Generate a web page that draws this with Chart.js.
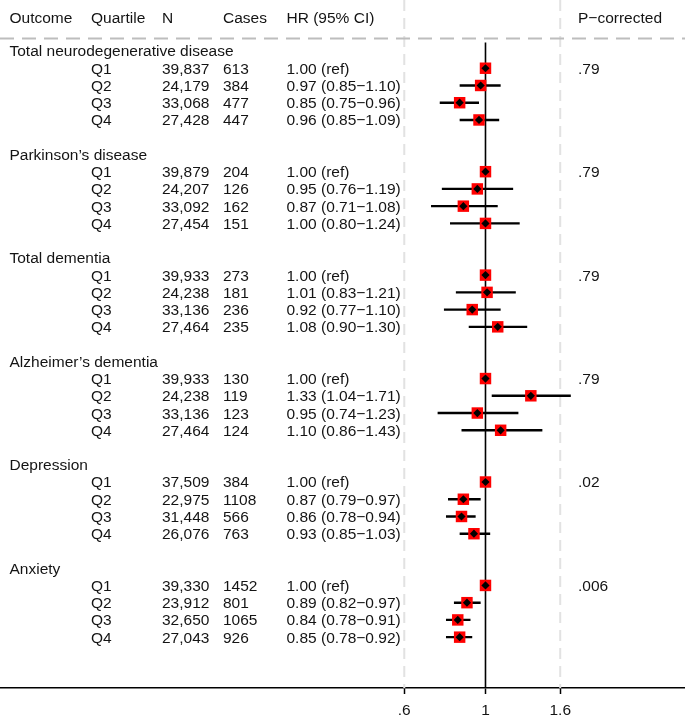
<!DOCTYPE html>
<html>
<head>
<meta charset="utf-8">
<script src="https://cdn.jsdelivr.net/npm/chart.js@4.4.1/dist/chart.umd.min.js"></script>
<style>
  html, body { margin: 0; padding: 0; background: #ffffff; }
  #wrap { width: 685px; height: 717px; position: relative; }
</style>
</head>
<body>
<div id="wrap"><canvas id="c"></canvas></div>
<script>
// ---------------- data ----------------
const headers = ['Outcome', 'Quartile', 'N', 'Cases', 'HR (95% CI)', 'P\u2212corrected'];
const outcomes = ['Total neurodegenerative disease', 'Parkinson\u2019s disease', 'Total dementia',
                  'Alzheimer\u2019s dementia', 'Depression', 'Anxiety'];
const quartiles = ['Q1', 'Q2', 'Q3', 'Q4'];
const nValues = [
  [39837, 24179, 33068, 27428],
  [39879, 24207, 33092, 27454],
  [39933, 24238, 33136, 27464],
  [39933, 24238, 33136, 27464],
  [37509, 22975, 31448, 26076],
  [39330, 23912, 32650, 27043]
];
const caseValues = [
  [613, 384, 477, 447],
  [204, 126, 162, 151],
  [273, 181, 236, 235],
  [130, 119, 123, 124],
  [384, 1108, 566, 763],
  [1452, 801, 1065, 926]
];
const hrValues = [
  [1.00, 0.97, 0.85, 0.96],
  [1.00, 0.95, 0.87, 1.00],
  [1.00, 1.01, 0.92, 1.08],
  [1.00, 1.33, 0.95, 1.10],
  [1.00, 0.87, 0.86, 0.93],
  [1.00, 0.89, 0.84, 0.85]
];
const ciLow = [
  [null, 0.85, 0.75, 0.85],
  [null, 0.76, 0.71, 0.80],
  [null, 0.83, 0.77, 0.90],
  [null, 1.04, 0.74, 0.86],
  [null, 0.79, 0.78, 0.85],
  [null, 0.82, 0.78, 0.78]
];
const ciHigh = [
  [null, 1.10, 0.96, 1.09],
  [null, 1.19, 1.08, 1.24],
  [null, 1.21, 1.10, 1.30],
  [null, 1.71, 1.23, 1.43],
  [null, 0.97, 0.94, 1.03],
  [null, 0.97, 0.91, 0.92]
];
const pCorrected = ['.79', '.79', '.79', '.79', '.02', '.006'];
const xTicks = [0.6, 1, 1.6];
const xTickLabels = ['.6', '1', '1.6'];

// ---------------- layout constants ----------------
const X_MIN = 0.0472, X_MAX = 3.507;
const Y_MIN = -2.958, Y_MAX = 36.949;
const HEADER_ROW = -1.93, RULE_ROW = -0.725, REF_TOP = -0.5;
const ROWS_PER_GROUP = 6;
const colX = [9.5, 91, 162, 223, 286.5, 578];
const FONT = '15.5px "Liberation Sans", Arial, Helvetica, sans-serif';
const TXT = '#141414';

// ---------------- build datasets ----------------
const squares = [], ciPts = [];
outcomes.forEach((o, g) => {
  quartiles.forEach((q, k) => {
    const row = g * ROWS_PER_GROUP + 1 + k;
    squares.push({ x: hrValues[g][k], y: row });
    if (ciLow[g][k] !== null) {
      ciPts.push({ x: ciLow[g][k], y: row });
      ciPts.push({ x: ciHigh[g][k], y: row });
      ciPts.push({ x: 1, y: null });
    }
  });
});

const fmtN = v => v.toLocaleString('en-US');
const fmtHR = (g, k) => ciLow[g][k] === null
  ? hrValues[g][k].toFixed(2) + ' (ref)'
  : hrValues[g][k].toFixed(2) + ' (' + ciLow[g][k].toFixed(2) + '\u2212' + ciHigh[g][k].toFixed(2) + ')';

const textPlugin = {
  id: 'tableText',
  afterDatasetsDraw(chart) {
    const ctx = chart.ctx, ys = chart.scales.y;
    ctx.save();
    ctx.font = FONT;
    ctx.fillStyle = TXT;
    ctx.textAlign = 'left';
    ctx.textBaseline = 'alphabetic';
    const put = (t, x, row) => ctx.fillText(t, x, ys.getPixelForValue(row) + 5.5);
    headers.forEach((h, i) => put(h, colX[i], HEADER_ROW));
    outcomes.forEach((o, g) => {
      const base = g * ROWS_PER_GROUP;
      put(o, colX[0], base);
      quartiles.forEach((q, k) => {
        const row = base + 1 + k;
        put(q, colX[1], row);
        put(fmtN(nValues[g][k]), colX[2], row);
        put(String(caseValues[g][k]), colX[3], row);
        put(fmtHR(g, k), colX[4], row);
      });
      put(pCorrected[g], colX[5], base + 1);
    });
    ctx.restore();
  }
};

const lineDs = (data, opts) => Object.assign({
  type: 'line', data, pointRadius: 0, borderColor: '#000', borderWidth: 1.5,
  fill: false, tension: 0, spanGaps: false
}, opts);

new Chart(document.getElementById('c'), {
  type: 'scatter',
  data: {
    datasets: [
      lineDs(xTicks.filter(v => v !== 1).flatMap(v => [{ x: v, y: Y_MIN }, { x: v, y: Y_MAX }, { x: v, y: null }]),
        { borderColor: '#e2e2e2', borderWidth: 2, borderDash: [11, 7], order: 10 }),
      lineDs([{ x: X_MIN, y: RULE_ROW }, { x: X_MAX, y: RULE_ROW }],
        { borderColor: '#bdbdbd', borderWidth: 2, borderDash: [14, 8], order: 9 }),
      lineDs([{ x: 1, y: REF_TOP }, { x: 1, y: Y_MAX }],
        { borderColor: '#000', borderWidth: 1.6, order: 6 }),
      lineDs(ciPts, { borderColor: '#000', borderWidth: 2.4, borderCapStyle: 'butt', order: 5 }),
      { type: 'scatter', data: squares, pointStyle: 'rect', pointRadius: 8.1,
        backgroundColor: '#ff0000', borderWidth: 0, order: 4 },
      { type: 'scatter', data: squares, pointStyle: 'rectRot', pointRadius: 4.1,
        backgroundColor: '#000000', borderWidth: 0, order: 3 }
    ]
  },
  options: {
    responsive: true,
    maintainAspectRatio: false,
    animation: false,
    events: [],
    layout: { padding: 0, autoPadding: false },
    plugins: { legend: { display: false }, tooltip: { enabled: false }, title: { display: false } },
    scales: {
      x: {
        type: 'logarithmic',
        min: X_MIN, max: X_MAX,
        afterBuildTicks: s => { s.ticks = xTicks.map(v => ({ value: v })); },
        afterFit: s => { s.height = 29; },
        grid: { display: true, drawOnChartArea: false, drawTicks: true, tickLength: 6,
                tickColor: '#000', tickWidth: 1.5 },
        border: { display: true, color: '#000', width: 1.5 },
        ticks: {
          autoSkip: false, maxRotation: 0, padding: 7, color: TXT,
          font: { family: '"Liberation Sans", Arial, sans-serif', size: 15.5 },
          callback: (v) => { const i = xTicks.indexOf(v); return i >= 0 ? xTickLabels[i] : ''; }
        }
      },
      y: {
        type: 'linear', reverse: true, display: false,
        min: Y_MIN, max: Y_MAX
      }
    }
  },
  plugins: [textPlugin]
});
</script>
</body>
</html>
